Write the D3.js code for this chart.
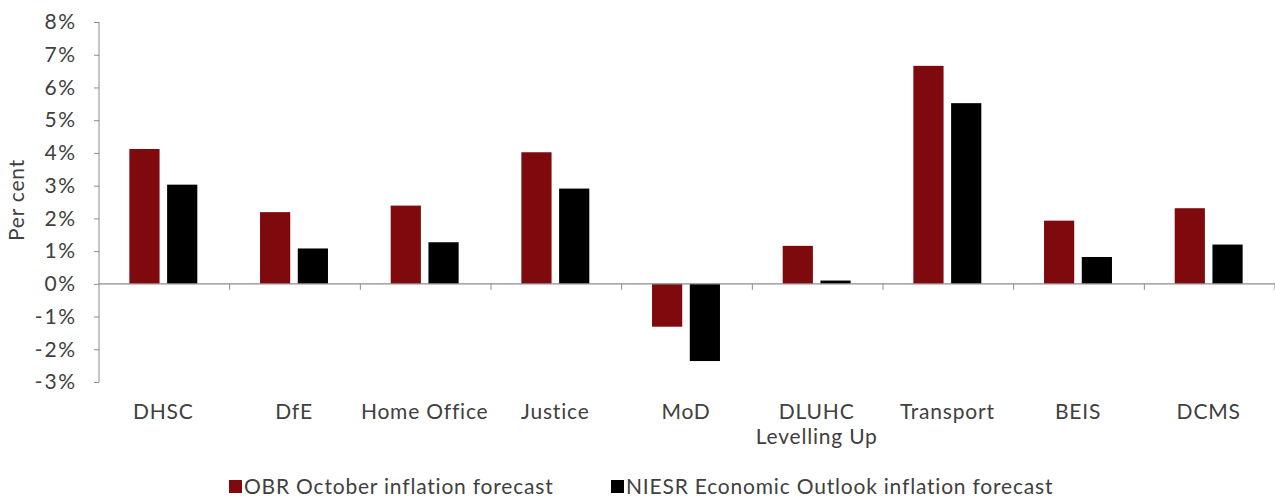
<!DOCTYPE html>
<html>
<head>
<meta charset="utf-8">
<script src="https://cdn.jsdelivr.net/npm/d3@7"></script>
<style>
  body { margin: 0; background: #fff; }
  svg text { font-family: Lato, "DejaVu Sans", sans-serif; fill: #404040; letter-spacing: 0.8px; }
</style>
</head>
<body>
<div id="chart"></div>
<script>
const departments = [["DHSC"], ["DfE"], ["Home Office"], ["Justice"], ["MoD"], ["DLUHC", "Levelling Up"], ["Transport"], ["BEIS"], ["DCMS"]];
const seriesNames = ["OBR October inflation forecast", "NIESR Economic Outlook inflation forecast"];
const seriesColors = ["#7f0a0e", "#000000"];
const obrValues = [4.12, 2.19, 2.39, 4.02, -1.31, 1.16, 6.66, 1.93, 2.31];
const niesrValues = [3.03, 1.08, 1.27, 2.91, -2.36, 0.1, 5.52, 0.82, 1.2];
const yTicks = [-3, -2, -1, 0, 1, 2, 3, 4, 5, 6, 7, 8];

const width = 1275, height = 497;
const margin = {top: 22, right: 0, bottom: 115, left: 99};

const svg = d3.select("#chart").append("svg")
    .attr("width", width)
    .attr("height", height);

const x = d3.scaleBand()
    .domain(d3.range(departments.length))
    .range([margin.left, width])
    .paddingInner(0.48)
    .paddingOuter(0.24);

const xSub = d3.scaleBand()
    .domain([0, 1])
    .range([0, x.bandwidth()])
    .paddingInner(0.2);

const y = d3.scaleLinear()
    .domain([-3, 8])
    .range([height - margin.bottom, margin.top]);

const axisColor = "#8c8c8c";

// y axis
const yAxis = svg.append("g")
    .attr("transform", `translate(${margin.left},0)`)
    .call(d3.axisLeft(y).tickValues(yTicks).tickSize(5).tickPadding(17).tickFormat(d => d + "%"));
yAxis.select(".domain").attr("stroke", axisColor).attr("d", `M0,${y(8)}V${y(-3)}`);
yAxis.selectAll(".tick line").attr("stroke", axisColor);
yAxis.selectAll(".tick text").style("font-size", "21px").attr("fill", "#404040")
    .style("font-family", "Lato, sans-serif").style("letter-spacing", "1.8px");

// bars
const groups = svg.append("g").selectAll("g")
    .data(departments.map((d, i) => [obrValues[i], niesrValues[i]]))
    .join("g")
    .attr("transform", (d, i) => `translate(${x(i) - 1},0)`);

groups.selectAll("rect")
    .data(d => d)
    .join("rect")
    .attr("x", (d, j) => xSub(j))
    .attr("width", xSub.bandwidth())
    .attr("y", d => y(Math.max(0, d)))
    .attr("height", d => Math.abs(y(d) - y(0)))
    .attr("fill", (d, j) => seriesColors[j]);

// zero axis with category separators
const step = x.step();
const xAxisG = svg.append("g");
xAxisG.append("line")
    .attr("x1", margin.left).attr("x2", width)
    .attr("y1", y(0)).attr("y2", y(0))
    .attr("stroke", axisColor).attr("stroke-width", 1.3);
xAxisG.selectAll("line.sep")
    .data(d3.range(1, departments.length + 1))
    .join("line")
    .attr("class", "sep")
    .attr("x1", i => margin.left + i * step).attr("x2", i => margin.left + i * step)
    .attr("y1", y(0)).attr("y2", y(0) + 6)
    .attr("stroke", axisColor);

// category labels
const labels = svg.append("g").selectAll("text")
    .data(departments)
    .join("text")
    .attr("x", (d, i) => margin.left + (i + 0.5) * step - 1)
    .attr("y", 419)
    .attr("text-anchor", "middle")
    .style("font-size", "21px");
labels.selectAll("tspan")
    .data(d => d)
    .join("tspan")
    .attr("x", function () { return this.parentNode.getAttribute("x"); })
    .attr("dy", (d, k) => k === 0 ? 0 : 25)
    .text(d => d);

// y title
svg.append("text")
    .attr("transform", `translate(24,200) rotate(-90)`)
    .attr("text-anchor", "middle")
    .style("font-size", "21px")
    .text("Per cent");

// legend
const legendX = [229, 611];
const legend = svg.append("g").selectAll("g")
    .data(seriesNames)
    .join("g")
    .attr("transform", (d, i) => `translate(${legendX[i]},480)`);
legend.append("rect")
    .attr("width", 13).attr("height", 13)
    .attr("fill", (d, i) => seriesColors[i]);
legend.append("text")
    .attr("x", 15).attr("y", 14)
    .style("font-size", "21px")
    .text(d => d);
</script>
</body>
</html>
